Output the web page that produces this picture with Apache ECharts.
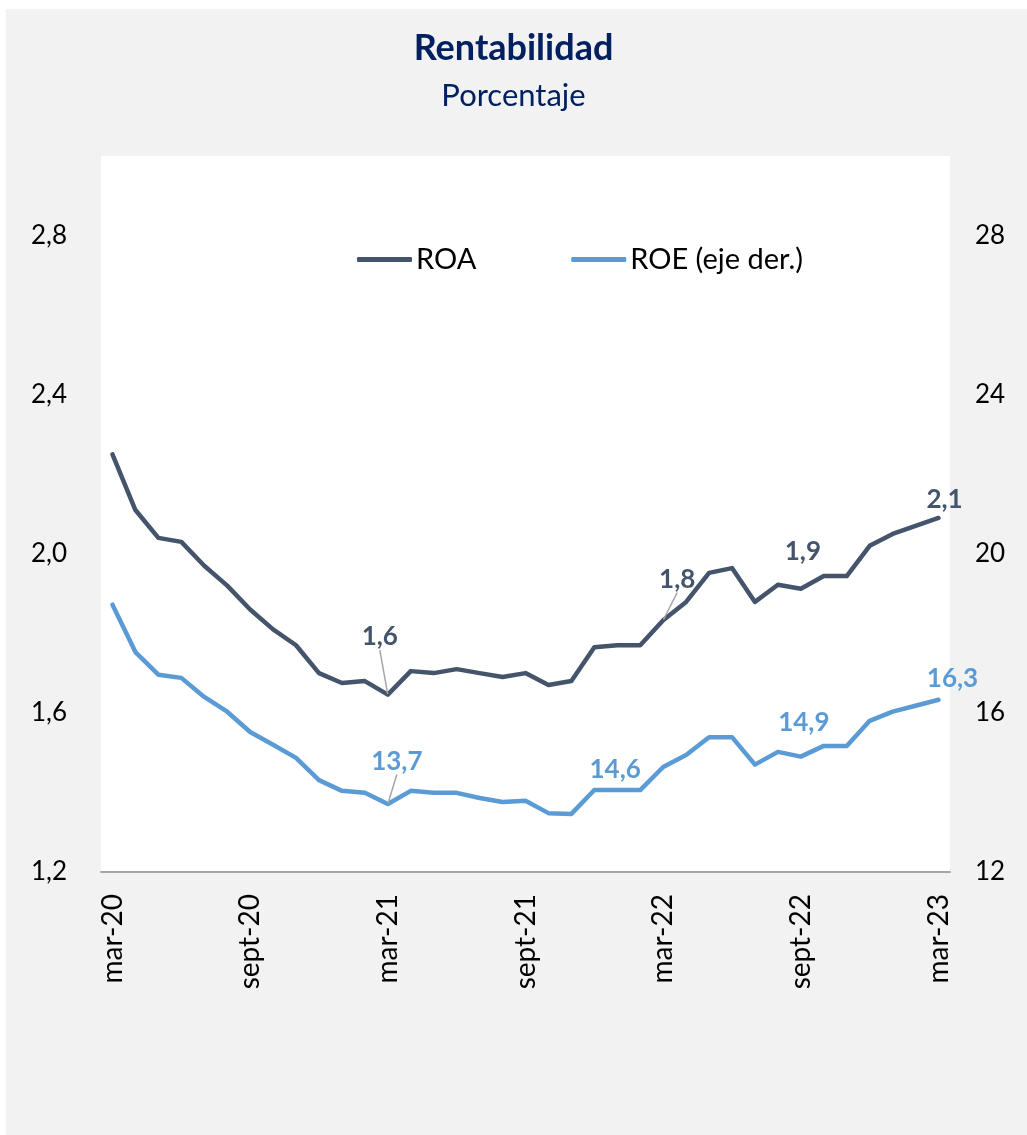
<!DOCTYPE html>
<html>
<head>
<meta charset="utf-8">
<script src="https://cdn.jsdelivr.net/npm/echarts@6/dist/echarts.min.js"></script>
<style>
  html, body { margin: 0; padding: 0; background: #fff; }
  #bg { position: absolute; left: 6px; top: 9px; right: 0; bottom: 0; background: #f2f2f2; }
  #chart { position: absolute; left: 0; top: 0; width: 1027px; height: 1135px; }
</style>
</head>
<body>
<div id="bg"></div>
<div id="chart"></div>
<script>
const months = [
  'mar-20', 'abr-20', 'may-20', 'jun-20', 'jul-20', 'ago-20', 'sept-20', 'oct-20', 'nov-20', 'dic-20', 'ene-21', 'feb-21',
  'mar-21', 'abr-21', 'may-21', 'jun-21', 'jul-21', 'ago-21', 'sept-21', 'oct-21', 'nov-21', 'dic-21', 'ene-22', 'feb-22',
  'mar-22', 'abr-22', 'may-22', 'jun-22', 'jul-22', 'ago-22', 'sept-22', 'oct-22', 'nov-22', 'dic-22', 'ene-23', 'feb-23',
  'mar-23'
]

// ROA, left axis
const roa = [
  2.25, 2.11, 2.04, 2.03, 1.97, 1.92, 1.86, 1.81, 1.77, 1.70, 1.675, 1.68,
  1.646, 1.705, 1.70, 1.71, 1.70, 1.69, 1.70, 1.67, 1.68, 1.765, 1.77, 1.77,
  1.833, 1.879, 1.952, 1.964, 1.879, 1.922, 1.912, 1.944, 1.944, 2.02, 2.05, 2.07,
  2.09
]

// ROE, right axis
const roe = [
  18.72, 17.53, 16.96, 16.88, 16.4, 16.03, 15.52, 15.2, 14.87, 14.31, 14.04, 13.99,
  13.71, 14.04, 13.99, 13.99, 13.86, 13.76, 13.79, 13.48, 13.46, 14.06, 14.06, 14.06,
  14.64, 14.94, 15.39, 15.39, 14.7, 15.02, 14.9, 15.17, 15.17, 15.8, 16.03, 16.18,
  16.33
]

// months that carry a value label
const roaLabelled = [12, 24, 30, 36]
const roeLabelled = [12, 24, 30, 36]

const FONT = 'Lato'
const ROA_COLOR = '#44546a'
const ROE_COLOR = '#5b9bd5'

// label nudges (dx, dy) and whether to draw a leader line
const roaNudge = { 12: [-8, -39, true], 24: [14, -22, true], 30: [2, -19, false], 36: [6, 0, false] }
const roeNudge = { 12: [9, -24, true], 24: [-48, 21, false], 30: [3, -16, false], 36: [14, -3, false] }

const comma = (v, d) => v.toFixed(d).replace('.', ',')

function buildData(values, labelled, nudge, color) {
  return values.map((v, i) => {
    if (!labelled.includes(i)) return v
    return {
      value: v,
      label: {
        show: true,
        position: 'top',
        distance: 5,
        formatter: (p) => comma(p.value, 1),
        color,
        fontFamily: FONT,
        fontWeight: 'bold',
        fontSize: 26
      },
      labelLine: {
        show: nudge[i][2],
        lineStyle: { color: '#a6a6a6', width: 1.5 }
      }
    }
  })
}

function nudger(nudge) {
  return (params) => {
    const n = nudge[params.dataIndex]
    if (!n) return {}
    return { dx: n[0], dy: n[1] }
  }
}

const chart = echarts.init(document.getElementById('chart'))

chart.setOption({
  backgroundColor: 'transparent',
  animation: false,
  textStyle: { fontFamily: FONT },
  title: {
    text: 'Rentabilidad',
    subtext: 'Porcentaje',
    left: 'center',
    top: 25,
    itemGap: 14,
    textStyle: { fontFamily: FONT, fontWeight: 'bold', fontSize: 36, color: '#002060' },
    subtextStyle: { fontFamily: FONT, fontSize: 31, color: '#002060' }
  },
  legend: {
    left: 352,
    top: 240,
    itemWidth: 55,
    itemHeight: 5,
    itemGap: 95,
    icon: 'roundRect',
    textStyle: { fontFamily: FONT, fontSize: 29, color: '#000', padding: [0, 0, 0, -1] },
    data: ['ROA', 'ROE (eje der.)']
  },
  grid: {
    left: 101,
    right: 77,
    top: 156,
    bottom: 263,
    show: true,
    backgroundColor: '#fff',
    borderWidth: 0
  },
  xAxis: {
    type: 'category',
    data: months,
    boundaryGap: true,
    axisLine: { lineStyle: { color: '#a6a6a6', width: 2 } },
    axisTick: { interval: 5, length: 10, lineStyle: { color: '#a6a6a6', width: 2 } },
    axisLabel: {
      interval: 5,
      rotate: 90,
      margin: 22,
      fontFamily: FONT,
      fontSize: 28,
      color: '#000'
    },
    splitLine: { show: false }
  },
  yAxis: [
    {
      type: 'value',
      min: 1.2,
      max: 3.0,
      interval: 0.4,
      axisLine: { show: false },
      axisTick: { show: false },
      splitLine: { show: false },
      axisLabel: {
        showMaxLabel: false,
        margin: 34,
        fontFamily: FONT,
        fontSize: 26,
        color: '#000',
        formatter: (v) => comma(v, 1)
      }
    },
    {
      type: 'value',
      min: 12,
      max: 30,
      interval: 4,
      axisLine: { show: false },
      axisTick: { show: false },
      splitLine: { show: false },
      axisLabel: {
        showMaxLabel: false,
        margin: 25,
        fontFamily: FONT,
        fontSize: 26,
        color: '#000'
      }
    }
  ],
  series: [
    {
      name: 'ROA',
      type: 'line',
      yAxisIndex: 0,
      data: buildData(roa, roaLabelled, roaNudge, ROA_COLOR),
      symbol: 'circle',
      symbolSize: 1,
      showSymbol: true,
      lineStyle: { color: ROA_COLOR, width: 4.5, cap: 'round', join: 'round' },
      itemStyle: { color: ROA_COLOR },
      labelLayout: nudger(roaNudge)
    },
    {
      name: 'ROE (eje der.)',
      type: 'line',
      yAxisIndex: 1,
      data: buildData(roe, roeLabelled, roeNudge, ROE_COLOR),
      symbol: 'circle',
      symbolSize: 1,
      showSymbol: true,
      lineStyle: { color: ROE_COLOR, width: 4.5, cap: 'round', join: 'round' },
      itemStyle: { color: ROE_COLOR },
      labelLayout: nudger(roeNudge)
    }
  ]
})
</script>
</body>
</html>
